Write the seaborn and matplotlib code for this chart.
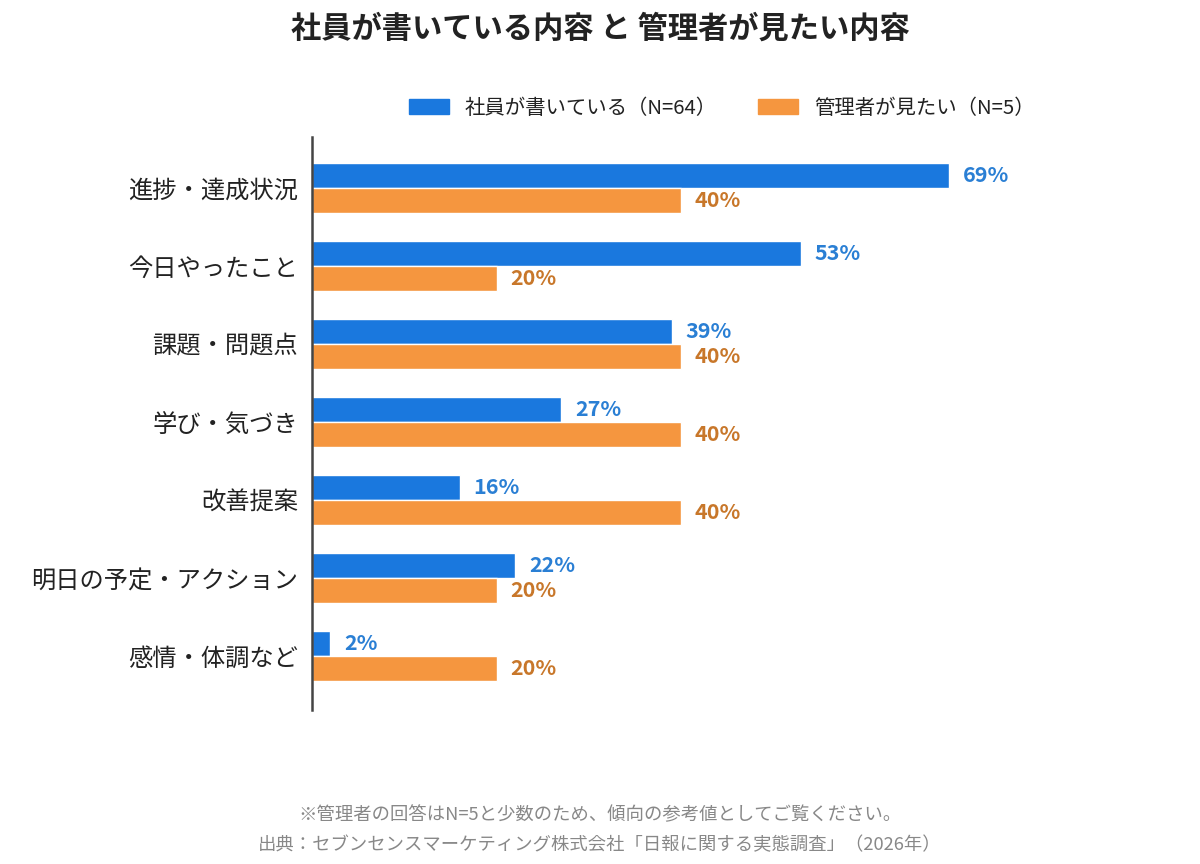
import numpy as np
import pandas as pd
import matplotlib
matplotlib.use('Agg')
import matplotlib.pyplot as plt
import seaborn as sns

categories = ['進捗・達成状況', '今日やったこと', '課題・問題点', '学び・気づき',
              '改善提案', '明日の予定・アクション', '感情・体調など']
employees = [69, 53, 39, 27, 16, 22, 2]
managers = [40, 20, 40, 40, 40, 20, 20]
series_names = ['社員が書いている（N=64）', '管理者が見たい（N=5）']

sns.set_theme(style='white')
plt.rcParams['font.family'] = ['Noto Sans CJK JP', 'DejaVu Sans']

bar_colors = ['#1a78de', '#f5963f']
label_colors = ['#2a7fd4', '#c8772a']

df = pd.DataFrame({
    'category': categories * 2,
    'value': employees + managers,
    'series': [series_names[0]] * len(categories) + [series_names[1]] * len(categories),
})

fig = plt.figure(figsize=(12, 8.64), dpi=100)
ax = fig.add_axes([0.26, 0.178, 0.615, 0.6636])

sns.barplot(data=df, y='category', x='value', hue='series', orient='h',
            palette=bar_colors, width=0.64, saturation=1, ax=ax,
            legend=False, errorbar=None)

for container, color in zip(ax.containers, label_colors):
    ax.bar_label(container, labels=[f'{v:.0f}%' for v in container.datavalues],
                 padding=10, color=color, fontsize=15.5, fontweight='bold')

ax.set_xlim(0, 80)
ax.set_ylim(len(categories) - 1 + 0.69, -0.65)
ax.set_xlabel('')
ax.set_ylabel('')
ax.set_xticks([])
ax.tick_params(axis='y', length=0, pad=10, labelsize=17.5, labelcolor='#222222')
for side in ['top', 'right', 'bottom']:
    ax.spines[side].set_visible(False)
ax.spines['left'].set_color('#444444')
ax.spines['left'].set_linewidth(1.8)

fig.text(0.5, 0.967, '社員が書いている内容 と 管理者が見たい内容', ha='center', va='center',
         fontsize=21.8, fontweight='bold', color='#222222')

# legend
handles = [plt.Rectangle((0, 0), 1, 1, color=c) for c in bar_colors]
fig.legend(handles, series_names, loc='center', bbox_to_anchor=(0.6015, 0.875),
           ncol=2, frameon=False, fontsize=14.7, handlelength=1.95, handleheight=0.7,
           handletextpad=0.8, columnspacing=2.0, labelcolor='#222222')

fig.text(0.5, 0.057, '※管理者の回答はN=5と少数のため、傾向の参考値としてご覧ください。',
         ha='center', va='center', fontsize=13.2, color='#888888')
fig.text(0.5, 0.022, '出典：セブンセンスマーケティング株式会社「日報に関する実態調査」（2026年）',
         ha='center', va='center', fontsize=13.2, color='#888888')

fig.savefig('out.png', dpi=100)
